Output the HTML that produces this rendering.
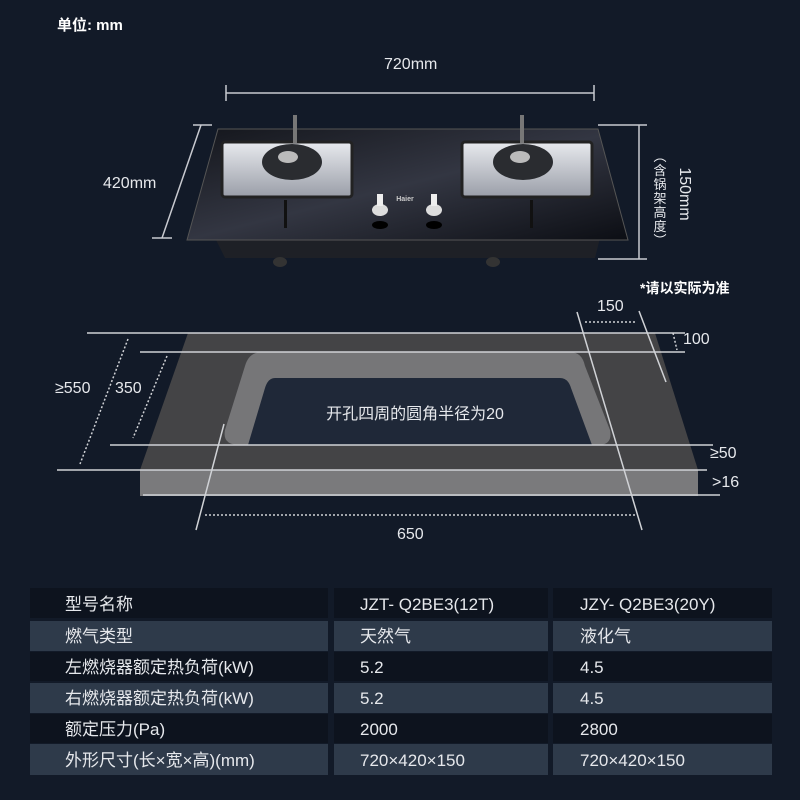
<!DOCTYPE html>
<html><head><meta charset="utf-8"><style>
body{margin:0;width:800px;height:800px;background:#121a28;overflow:hidden;font-family:"Liberation Sans","Noto Sans CJK SC",sans-serif;color:#e6e8ec}
svg{position:absolute;left:0;top:0}
.t{position:absolute;white-space:nowrap}
</style></head><body>
<svg width="800" height="800" viewBox="0 0 800 800">
<defs>
<linearGradient id="glass" x1="0" y1="0" x2="1" y2="1">
<stop offset="0" stop-color="#14161c"/><stop offset="0.5" stop-color="#333642"/><stop offset="1" stop-color="#0c0e14"/></linearGradient>
<linearGradient id="steel" x1="0" y1="0" x2="0" y2="1"><stop offset="0" stop-color="#e8eaee"/><stop offset="1" stop-color="#9a9ea8"/></linearGradient>
</defs>
<g stroke="#c8cad0" stroke-width="1.5" fill="none">
<line x1="226" y1="93" x2="594" y2="93"/><line x1="226" y1="85" x2="226" y2="101"/><line x1="594" y1="85" x2="594" y2="101"/>
<line x1="201" y1="125" x2="162" y2="238"/><line x1="193" y1="125" x2="212" y2="125"/><line x1="152" y1="238" x2="172" y2="238"/>
<line x1="639" y1="125" x2="639" y2="259"/><line x1="598" y1="125" x2="647" y2="125"/><line x1="598" y1="259" x2="647" y2="259"/>
</g>
<path d="M215 238 L600 238 L595 258 L225 258 Z" fill="#1e2026"/>
<ellipse cx="280" cy="262" rx="7" ry="5" fill="#333"/><ellipse cx="493" cy="262" rx="7" ry="5" fill="#333"/>
<path d="M218 129 L598 129 L628 240 L187 240 Z" fill="url(#glass)" stroke="#555" stroke-width="1"/>
<g>
<rect x="222" y="142" width="130" height="55" rx="3" fill="url(#steel)" stroke="#222" stroke-width="3"/>
<rect x="462" y="142" width="130" height="55" rx="3" fill="url(#steel)" stroke="#222" stroke-width="3"/>
<ellipse cx="292" cy="162" rx="30" ry="18" fill="#2a2c30"/><ellipse cx="288" cy="157" rx="10" ry="6" fill="#bbb"/>
<ellipse cx="523" cy="162" rx="30" ry="18" fill="#2a2c30"/><ellipse cx="520" cy="157" rx="10" ry="6" fill="#bbb"/>
<rect x="293" y="115" width="4" height="28" fill="#777"/><rect x="520" y="115" width="4" height="28" fill="#777"/>
<rect x="284" y="200" width="3" height="28" fill="#111"/><rect x="530" y="200" width="3" height="28" fill="#111"/>
<ellipse cx="380" cy="210" rx="8" ry="6" fill="#ddd"/><rect x="377" y="194" width="6" height="12" fill="#eee"/>
<ellipse cx="434" cy="210" rx="8" ry="6" fill="#ddd"/><rect x="431" y="194" width="6" height="12" fill="#eee"/>
<ellipse cx="380" cy="225" rx="8" ry="4" fill="#000"/><ellipse cx="434" cy="225" rx="8" ry="4" fill="#000"/>
<text x="405" y="201" font-size="7" fill="#ccc" font-weight="bold" text-anchor="middle" font-family="Liberation Sans">Haier</text>
</g>
<path d="M188 333 L655 333 L698 470 L140 470 Z" fill="#444446"/>
<rect x="140" y="470" width="558" height="26" fill="#7a7a7c"/>
<path d="M262 352 L570 352 Q582 352 585 366 L610 430 Q613 445 598 445 L240 445 Q222 445 225 430 L245 366 Q249 352 262 352 Z" fill="#767678"/>
<path d="M275 378 L560 378 Q568 378 571 388 L592 445 L248 445 L265 388 Q268 378 275 378 Z" fill="#1f2838"/>
<g stroke="#d0d2d6" stroke-width="1.5" fill="none">
<line x1="87" y1="333" x2="685" y2="333"/>
<line x1="140" y1="352" x2="685" y2="352"/>
<line x1="110" y1="445" x2="713" y2="445"/>
<line x1="57" y1="470" x2="707" y2="470"/>
<line x1="143" y1="495" x2="720" y2="495"/>
<line x1="224" y1="424" x2="196" y2="530"/>
<line x1="577" y1="312" x2="642" y2="530"/>
<line x1="639" y1="311" x2="666" y2="382"/>
</g>
<g stroke="#d0d2d6" stroke-width="1.5" fill="none" stroke-dasharray="2 2">
<line x1="128" y1="339" x2="80" y2="464"/>
<line x1="167" y1="356" x2="133" y2="438"/>
<line x1="205" y1="515" x2="635" y2="515"/>
<line x1="585" y1="322" x2="637" y2="322"/>
<line x1="673" y1="333" x2="677" y2="350"/>
</g>
<text x="415" y="419" font-size="16" fill="#e6e8ec" text-anchor="middle" font-family="Liberation Sans,Noto Sans CJK SC,sans-serif">开孔四周的圆角半径为20</text>
<g>
<rect x="30" y="588" width="298" height="30" fill="#0d131e"/><rect x="334" y="588" width="214" height="30" fill="#0d131e"/><rect x="553" y="588" width="219" height="30" fill="#0d131e"/>
<rect x="30" y="621" width="298" height="30" fill="#2e3a4a"/><rect x="334" y="621" width="214" height="30" fill="#2e3a4a"/><rect x="553" y="621" width="219" height="30" fill="#2e3a4a"/>
<rect x="30" y="652" width="298" height="29" fill="#0d131e"/><rect x="334" y="652" width="214" height="29" fill="#0d131e"/><rect x="553" y="652" width="219" height="29" fill="#0d131e"/>
<rect x="30" y="683" width="298" height="30" fill="#2e3a4a"/><rect x="334" y="683" width="214" height="30" fill="#2e3a4a"/><rect x="553" y="683" width="219" height="30" fill="#2e3a4a"/>
<rect x="30" y="714" width="298" height="29" fill="#0d131e"/><rect x="334" y="714" width="214" height="29" fill="#0d131e"/><rect x="553" y="714" width="219" height="29" fill="#0d131e"/>
<rect x="30" y="744" width="298" height="31" fill="#2e3a4a"/><rect x="334" y="744" width="214" height="31" fill="#2e3a4a"/><rect x="553" y="744" width="219" height="31" fill="#2e3a4a"/>
</g>
<g font-size="17" fill="#e6e8ec" font-family="Liberation Sans,Noto Sans CJK SC,sans-serif">
<text x="65" y="610">型号名称</text><text x="360" y="610">JZT- Q2BE3(12T)</text><text x="580" y="610">JZY- Q2BE3(20Y)</text>
<text x="65" y="642">燃气类型</text><text x="360" y="642">天然气</text><text x="580" y="642">液化气</text>
<text x="65" y="673">左燃烧器额定热负荷(kW)</text><text x="360" y="673">5.2</text><text x="580" y="673">4.5</text>
<text x="65" y="704">右燃烧器额定热负荷(kW)</text><text x="360" y="704">5.2</text><text x="580" y="704">4.5</text>
<text x="65" y="735">额定压力(Pa)</text><text x="360" y="735">2000</text><text x="580" y="735">2800</text>
<text x="65" y="766">外形尺寸(长×宽×高)(mm)</text><text x="360" y="766">720×420×150</text><text x="580" y="766">720×420×150</text>
</g>
</svg>
<div class="t" style="left:57px;top:14px;font-size:15px;font-weight:bold;color:#fff">单位: mm</div>
<div class="t" style="left:384px;top:56px;font-size:16px">720mm</div>
<div class="t" style="left:103px;top:175px;font-size:16px">420mm</div>
<div class="t" style="left:654px;top:185px;width:60px;text-align:center;font-size:16px;transform:rotate(90deg);transform-origin:center">150mm</div>
<div class="t" style="left:652px;top:150px;font-size:13px;width:16px;line-height:14px;white-space:normal;text-align:center">︵<br>含<br>锅<br>架<br>高<br>度<br>︶</div>
<div class="t" style="left:640px;top:278px;font-size:14px;font-weight:bold;color:#fff">*请以实际为准</div>
<div class="t" style="left:597px;top:298px;font-size:16px">150</div>
<div class="t" style="left:683px;top:331px;font-size:16px">100</div>
<div class="t" style="left:55px;top:380px;font-size:16px">≥550</div>
<div class="t" style="left:115px;top:380px;font-size:16px">350</div>
<div class="t" style="left:710px;top:445px;font-size:16px">≥50</div>
<div class="t" style="left:712px;top:474px;font-size:16px">&gt;16</div>
<div class="t" style="left:397px;top:526px;font-size:16px">650</div>
</body></html>
